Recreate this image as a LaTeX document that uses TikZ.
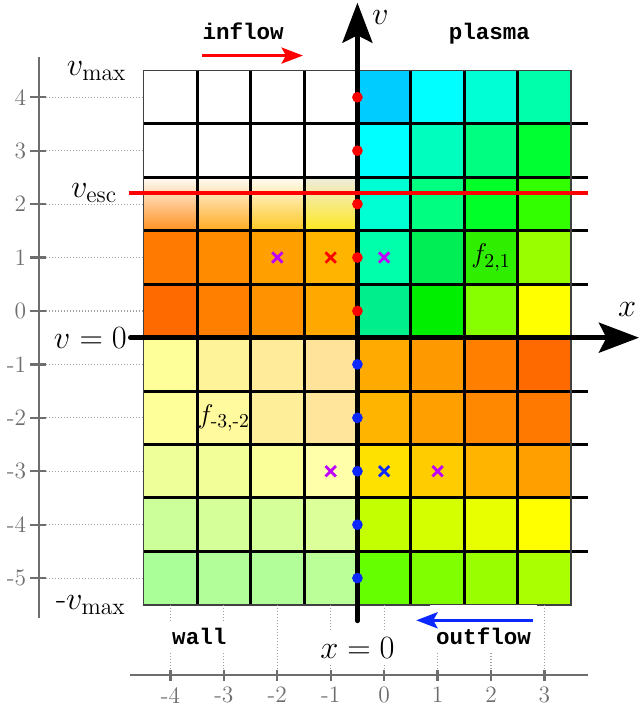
\documentclass[tikz,border=0pt]{standalone}
\usepackage{fontspec}
\usepackage{amsmath}
\newfontfamily\codefont{Liberation Mono}
\usetikzlibrary{arrows.meta,shapes.misc}

\definecolor{axisgray}{HTML}{6E6E6E}
\definecolor{guidegray}{HTML}{A0A0A0}
\definecolor{flowred}{HTML}{FF0000}
\definecolor{flowblue}{HTML}{0A28FF}
\definecolor{markpurple}{HTML}{C000FF}

\tikzset{
  gridline/.style={black, line width=1.6pt},
  mainaxis/.style={black, line width=2.5pt, line cap=round, -{Stealth[length=7.5mm,width=5.6mm,inset=1.4mm]}},
  flowarrow/.style={line width=1.6pt, -{Stealth[length=4mm,width=3mm,inset=0.8mm]}},
  scaleaxis/.style={axisgray, line width=1.2pt},
  guide/.style={guidegray, densely dotted, line width=0.6pt},
  ticklabel/.style={text=axisgray, inner sep=1pt, font=\fontsize{12.5}{14}\selectfont},
  bigmath/.style={font=\fontsize{18}{22}\selectfont},
  codelabel/.style={anchor=base, font=\codefont\bfseries\fontsize{12}{14}\selectfont},
  cellname/.style={font=\fontsize{15}{17}\selectfont},
  pdot/.style={circle, fill, inner sep=0pt, minimum size=0.2cm},
  crossmark/.style={cross out, draw, line width=1.5pt, inner sep=0pt, minimum size=0.14cm}
}

\begin{document}
\begin{tikzpicture}
\useasboundingbox (-7.19,-7.45) rectangle (4.78,5.82);

% cell colours, one row per line, columns -4 .. 3
\foreach \j/\row in {
  4/{FFFFFF,FFFFFF,FFFFFF,FFFFFF,00CCFF,00FFFF,00FFD4,00FFAA},
  3/{FFFFFF,FFFFFF,FFFFFF,FFFFFF,00FFFF,00FFBE,00FF80,00FF32},
  2/{FFFFFF,FFFFFF,FFFFFF,FFFFFF,00FFD2,00FF80,00FF28,32FF00},
  1/{FF7A00,FF8C00,FF9F00,FFB400,00FFAA,00EE55,30EE00,99FF00},
  0/{FF6A00,FF8000,FF9200,FFA800,00EE8C,00EE00,88FF00,FFFF00},
  -1/{FFFF99,FFF399,FFEB99,FFE39B,FFAA00,FF9900,FF8000,FF6A00},
  -2/{FFFF99,FFFA9E,FFEE99,FFE49B,FFB400,FFA000,FF8800,FF7800},
  -3/{EEFF99,F2FF99,FAFF99,FFFFAA,FFE100,FFCC00,FFB400,FFA000},
  -4/{CCFF99,D4FF99,D4FF99,DDFF99,C3FF00,D4FF00,E8FF00,FFFF00},
  -5/{AAFF99,B2FF99,B2FF99,BBFF99,66FF00,80FF00,99FF00,AAFF00}}{
  \foreach \c [count=\k from 0] in \row {
    \definecolor{cellc}{HTML}{\c}
    \fill[cellc] (\k-4.5,\j-0.5) rectangle ++(1,1);
  }
}

% fading cells below v_esc
\foreach \t/\c [count=\k from 0] in {FFFCF5/FF9020,FFFCF5/FFAA20,FFFCF5/FFC820,EEECDE/FFE820}{
  \definecolor{celltop}{HTML}{\t}
  \definecolor{cellc}{HTML}{\c}
  \shade[top color=celltop, middle color=cellc!25!white, bottom color=cellc] (\k-4.5,1.5) rectangle ++(1,1);
}

% grid
\foreach \x in {-3.5,-2.5,-1.5,0.5,1.5,2.5}
  \draw[gridline] (\x,-5.5) -- (\x,4.5);
\foreach \y in {3.5,2.5,1.5,0.5,-1.5,-2.5,-3.5,-4.5}
  \draw[gridline] (-4.5,\y) -- (3.82,\y);
\draw[black!75, line width=0.8pt] (-4.5,-5.5) rectangle (3.5,4.5);

% velocity scale
\draw[scaleaxis] (-6.46,4.76) -- (-6.46,-5.75);
\foreach \y in {-5,...,4}{
  \draw[scaleaxis] (-6.62,\y) -- (-6.33,\y);
  \draw[guide] (-6.33,\y) -- (-4.5,\y);
  \node[ticklabel, anchor=east] (vt\y) at (-6.66,\y) {\y};
}

% position scale
\draw[scaleaxis] (-4.76,-6.82) -- (3.82,-6.82);
\foreach \x in {-4,...,3}{
  \draw[scaleaxis] (\x,-6.72) -- (\x,-6.93);
  \draw[guide] (\x,-5.5) -- (\x,-6.72);
  \node[ticklabel, anchor=north] (xt\x) at (\x,-7.0) {\x};
}

% region labels
\node[codelabel] (inflow) at (-2.64,5.08) {inflow};
\node[codelabel] (plasma) at (1.97,5.08) {plasma};
\node[codelabel, fill=white, inner ysep=0pt, text height=0.45cm, text depth=0.12cm] (wall) at (-3.46,-6.25) {wall};
\node[codelabel, fill=white, inner ysep=0pt, text height=0.75cm, text depth=0.12cm] (outflow) at (1.86,-6.25) {outflow};
\node[bigmath] (vmax) at (-5.38,4.49) {$v_{\max}$};
\node[bigmath] (vesc) at (-5.43,2.21) {$v_{\mathrm{esc}}$};
\node[bigmath] (vmin) at (-5.49,-5.51) {-$v_{\max}$};

% flow arrows
\coordinate (in-a) at (-3.41,4.78);
\coordinate (in-b) at (-1.52,4.78);
\draw[flowarrow, flowred] (in-a) -- (in-b);
\coordinate (out-a) at (2.79,-5.79);
\coordinate (out-b) at (0.6,-5.79);
\draw[flowarrow, flowblue] (out-a) -- (out-b);

% axes
\node[bigmath, anchor=east, inner sep=0.06cm] (vzero) at (-4.75,-0.5) {$v = 0$};
\coordinate (xtip) at (4.77,-0.5);
\draw[mainaxis] (vzero.east) -- (xtip);
\coordinate (vbase) at (-0.5,-5.8);
\coordinate (vtip) at (-0.5,5.77);
\node[bigmath, anchor=base, fill=white] (xzero) at (-0.5,-6.5) {$x = 0$};
\draw[mainaxis] (vbase) -- (vtip);
\node[bigmath, inner sep=1pt] (vlabel) at (-0.07,5.5) {$v$};
\node[bigmath] (xlabel) at (4.55,0.02) {$x$};

% escape velocity
\coordinate (esc-l) at (-4.78,2.21);
\coordinate (esc-r) at (3.82,2.21);
\draw[flowred, line width=2pt] (esc-l) -- (esc-r);

% boundary points
\foreach \j in {0,...,4}
  \node[pdot, flowred] (rd\j) at (-0.5,\j) {};
\foreach \j in {-5,...,-1}
  \node[pdot, flowblue] (bd\j) at (-0.5,\j) {};

% sample crosses
\node[crossmark, markpurple] (cx1) at (-2,1) {};
\node[crossmark, flowred] (cx2) at (-1,1) {};
\node[crossmark, markpurple] (cx3) at (0,1) {};
\node[crossmark, markpurple] (cx4) at (-1,-3) {};
\node[crossmark, flowblue] (cx5) at (0,-3) {};
\node[crossmark, markpurple] (cx6) at (1,-3) {};

% cell names
\node[cellname] (f21) at (2,1) {$f_{\text{2,1}}$};
\node[cellname] (fm3m2) at (-3,-2) {$f_{\text{-3,-2}}$};
\end{tikzpicture}
\end{document}
